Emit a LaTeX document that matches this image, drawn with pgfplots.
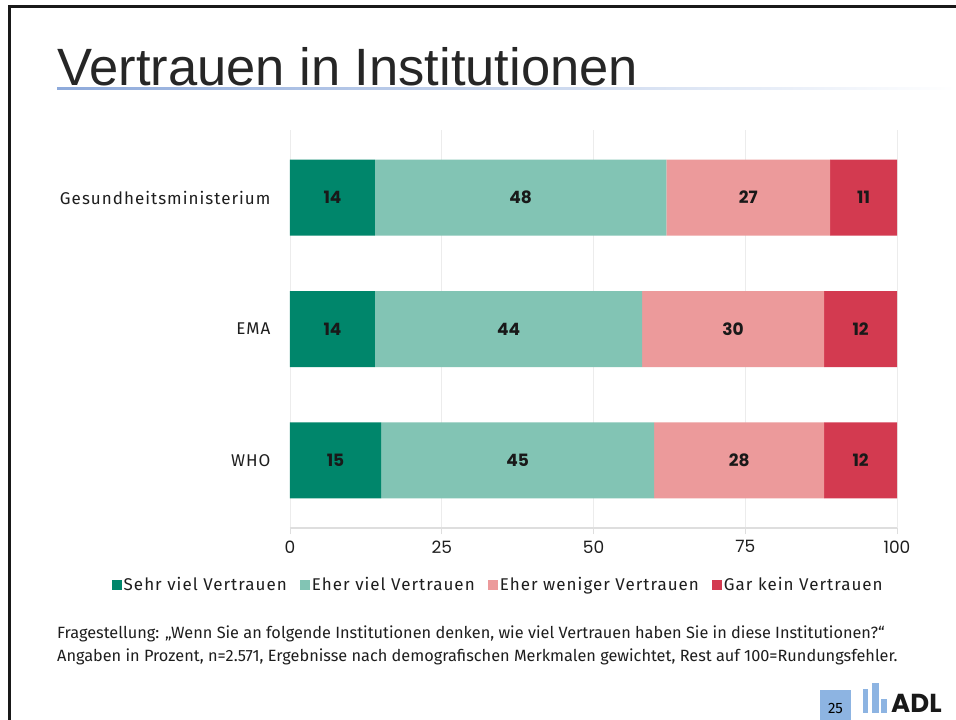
\documentclass[border=0pt]{standalone}
\usepackage{fontspec}
\setmainfont{Fira Sans}
\newfontfamily\pop{Poppins}
\newfontfamily\spaced[LetterSpace=6]{Fira Sans}
\newfontfamily\titlefont{Liberation Sans}
\usepackage{pgfplots}
\pgfplotsset{compat=1.18}

\definecolor{c1}{RGB}{0,134,107}
\definecolor{c2}{RGB}{130,196,180}
\definecolor{c3}{RGB}{236,154,155}
\definecolor{c4}{RGB}{211,58,80}
\definecolor{gridc}{RGB}{236,236,236}
\definecolor{axisc}{RGB}{222,222,222}
\definecolor{txt}{RGB}{30,30,30}
\definecolor{uline}{RGB}{142,170,219}
\definecolor{pgblue}{RGB}{141,180,226}

\begin{document}
\begin{tikzpicture}[x=1pt,y=-1pt]
\useasboundingbox (0,0) rectangle (956,720);
\clip (0,0) rectangle (956,720);
\fill[white] (0,0) rectangle (956,720);
\draw[line width=3pt, black!90] (9,722) -- (9,6) -- (958,6);

% title
\node[anchor=base west, inner sep=0pt, text=black!85]
  at (57,85) {\titlefont\fontsize{52.5}{60}\selectfont Vertrauen in Institutionen};
\shade[left color=uline, right color=white] (57,87) rectangle (956,89.5);

\begin{axis}[
  at={(290pt,-528pt)}, anchor=south west,
  scale only axis, width=607pt, height=398pt,
  xbar stacked, bar width=76pt,
  xmin=0, xmax=100, ymin=-0.515, ymax=2.515,
  xtick={0,25,50,75,100}, ytick={0,1,2},
  yticklabels={WHO,EMA,Gesundheitsministerium},
  xmajorgrids, grid style={draw=gridc, line width=0.8pt},
  axis x line*=bottom, axis y line*=left,
  x axis line style={draw=axisc, line width=1.5pt},
  y axis line style={draw=none},
  xtick style={draw=axisc, line width=0.8pt},
  ytick style={draw=none},
  tick align=outside, major tick length=6pt,
  /pgf/number format/assume math mode=true,
  xticklabel style={font=\pop\fontsize{17}{20}\selectfont, text=txt, yshift=-3pt},
  yticklabel style={font=\spaced\fontsize{17}{20}\selectfont, text=txt, xshift=-10pt},
  legend columns=4,
  legend style={draw=none, fill=none, at={(0.343,-0.143)}, anchor=center,
    font=\spaced\fontsize{17}{20}\selectfont, text=txt,
    /tikz/every even column/.append style={column sep=11pt}},
  every axis plot post/.append style={
    legend image code/.code={\fill[##1, draw=none] (0pt,-5.5pt) rectangle (10pt,4.5pt);}},
]
\addplot[fill=c1, draw=none] coordinates {(14,2) (14,1) (15,0)};
\addplot[fill=c2, draw=none] coordinates {(48,2) (44,1) (45,0)};
\addplot[fill=c3, draw=none] coordinates {(27,2) (30,1) (28,0)};
\addplot[fill=c4, draw=none] coordinates {(11,2) (12,1) (12,0)};
\legend{Sehr viel Vertrauen, Eher viel Vertrauen, Eher weniger Vertrauen, Gar kein Vertrauen}
\end{axis}

% value labels at segment centres
\begin{axis}[
  at={(290pt,-528pt)}, anchor=south west,
  scale only axis, width=607pt, height=398pt,
  xmin=0, xmax=100, ymin=-0.515, ymax=2.515,
  hide axis,
  nodes near coords, point meta=explicit symbolic,
  nodes near coords align={center},
  every node near coord/.append style={font=\pop\bfseries\fontsize{17}{20}\selectfont, text=black!90},
]
\addplot[draw=none, mark=none] coordinates {
  (7,2) [14] (38,2) [48] (75.5,2) [27] (94.5,2) [11]
  (7,1) [14] (36,1) [44] (73,1) [30] (94,1) [12]
  (7.5,0) [15] (37.5,0) [45] (74,0) [28] (94,0) [12]
};
\end{axis}

% footnote
\node[anchor=base west, inner sep=0pt, text=txt, font=\fontsize{16.3}{19}\selectfont]
  at (57,638) {Fragestellung: „Wenn Sie an folgende Institutionen denken, wie viel Vertrauen haben Sie in diese Institutionen?“};
\node[anchor=base west, inner sep=0pt, text=txt, font=\fontsize{16.3}{19}\selectfont]
  at (57,661) {Angaben in Prozent, n=2.571, Ergebnisse nach demografischen Merkmalen gewichtet, Rest auf 100=Rundungsfehler.};

% page number and logo
\fill[pgblue] (820,690) rectangle (851,722);
\node[anchor=base, inner sep=0pt, font=\fontsize{15}{18}\selectfont, text=black] at (835.5,713) {25};
\fill[pgblue] (863,689) rectangle (868,713);
\fill[pgblue] (872,683) rectangle (879,713);
\fill[pgblue] (881,699) rectangle (887,713);
\node[anchor=base west, inner sep=0pt, font=\pop\bfseries\fontsize{26}{30}\selectfont, text=black!90] at (891,712) {ADL};
\end{tikzpicture}
\end{document}
